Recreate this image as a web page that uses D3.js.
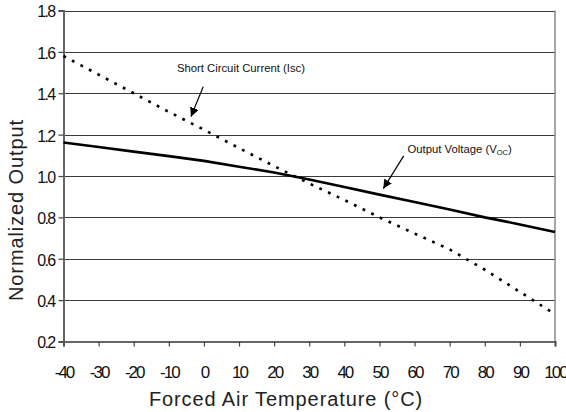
<!DOCTYPE html>
<html><head><meta charset="utf-8">
<script src="https://cdn.jsdelivr.net/npm/d3@7"></script>
<style>
html,body{margin:0;padding:0;background:#fff;}
svg{display:block;font-family:"Liberation Sans",Arial,sans-serif;}
</style></head>
<body>
<svg id="chart" width="566" height="412"></svg>
<script>
// Data
const temperatures = [-40,-30,-20,-10,0,10,20,30,40,50,60,70,80,90,100];
const vocValues    = [1.162,1.140,1.118,1.096,1.073,1.045,1.017,0.983,0.947,0.910,0.874,0.838,0.800,0.766,0.729];
const iscValues    = [1.580,1.490,1.400,1.310,1.224,1.135,1.048,0.964,0.884,0.800,0.722,0.645,0.547,0.440,0.332];
const xTicks = [-40,-30,-20,-10,0,10,20,30,40,50,60,70,80,90,100];
const yTicks = [0.2,0.4,0.6,0.8,1.0,1.2,1.4,1.6,1.8];
const annotations = [
  {text:"Short Circuit Current (Isc)", sub:null, tx:-7.7, ty:1.503, ax1:-0.2, ay1:1.431, ax2:-3.7, ay2:1.287},
  {text:"Output Voltage (V", sub:"OC", tail:")", tx:58, ty:1.109, ax1:56.9, ay1:1.097, ax2:51.1, ay2:0.939}
];

const svg = d3.select("#chart");
const L = 63.5, R = 555, T = 10.5, B = 341.5;
const x = d3.scaleLinear().domain([-40,100]).range([L,R]);
const y = d3.scaleLinear().domain([0.2,1.8]).range([B,T]);

// gridlines
svg.append("g").selectAll("line").data(yTicks.filter(d=>d>0.2)).join("line")
  .attr("x1",L).attr("x2",R).attr("y1",d=>Math.round(y(d))+0.5).attr("y2",d=>Math.round(y(d))+0.5)
  .attr("stroke","#3a3a3a").attr("stroke-width",1);

// right border
svg.append("line").attr("x1",R).attr("x2",R).attr("y1",T).attr("y2",B)
  .attr("stroke","#888").attr("stroke-width",1.5);

// axes
const yAxis = d3.axisLeft(y).tickValues(yTicks).tickSize(5).tickPadding(4).tickFormat(d=>d.toFixed(1));
const xAxis = d3.axisBottom(x).tickValues(xTicks).tickSize(5).tickPadding(19).tickFormat(d=>String(d));

const gy = svg.append("g").attr("transform",`translate(${L},0)`).call(yAxis);
const gx = svg.append("g").attr("transform",`translate(0,${B})`).call(xAxis);
[gx,gy].forEach(g=>{
  g.select(".domain").attr("stroke","#666").attr("stroke-width",2);
  g.selectAll(".tick line").attr("stroke","#444").attr("stroke-width",1.2);
  g.selectAll(".tick text").attr("fill","#111")
    .style("font-family","'Liberation Sans',Arial,sans-serif");
});
gx.selectAll(".tick text").style("font-size","17px").style("letter-spacing","-2px");
gy.selectAll(".tick text").style("font-size","16px").style("letter-spacing","-1.7px").attr("dy","0.4em");

// lines
svg.append("path").attr("d",d3.line().x((d,i)=>x(temperatures[i])).y(d=>y(d))(iscValues))
  .attr("fill","none").attr("stroke","#000")
  .attr("stroke-width",2.6).attr("stroke-dasharray","2.8 6.8");
svg.append("path").attr("d",d3.line().x((d,i)=>x(temperatures[i])).y(d=>y(d))(vocValues))
  .attr("fill","none").attr("stroke","#000")
  .attr("stroke-width",2.6);

// arrows
svg.append("defs").append("marker").attr("id","arr").attr("viewBox","0 0 10 10")
  .attr("refX",10).attr("refY",5).attr("markerWidth",9).attr("markerHeight",9)
  .attr("markerUnits","userSpaceOnUse").attr("orient","auto")
  .append("path").attr("d","M0,0 L10,5 L0,10 Z").attr("fill","#000");

annotations.forEach(a=>{
  svg.append("line").attr("x1",x(a.ax1)).attr("y1",y(a.ay1)).attr("x2",x(a.ax2)).attr("y2",y(a.ay2))
    .attr("stroke","#000").attr("stroke-width",1.2).attr("marker-end","url(#arr)");
  const t = svg.append("text").attr("x",x(a.tx)).attr("y",y(a.ty))
    .style("font-size","11.3px").attr("fill","#111");
  t.append("tspan").text(a.text);
  if(a.sub){
    t.append("tspan").text(a.sub).style("font-size","7.5px").attr("dy",2);
    t.append("tspan").text(a.tail).attr("dy",-2);
  }
});

// axis titles
svg.append("text").attr("x",286).attr("y",405.5).attr("text-anchor","middle")
  .style("font-size","20px").style("letter-spacing","0.9px").attr("fill","#222")
  .text("Forced Air Temperature (°C)");
svg.append("text").attr("transform",`translate(23,210) rotate(-90)`).attr("text-anchor","middle")
  .style("font-size","20px").style("letter-spacing","0.9px").attr("fill","#222")
  .text("Normalized Output");
</script>
</body></html>
